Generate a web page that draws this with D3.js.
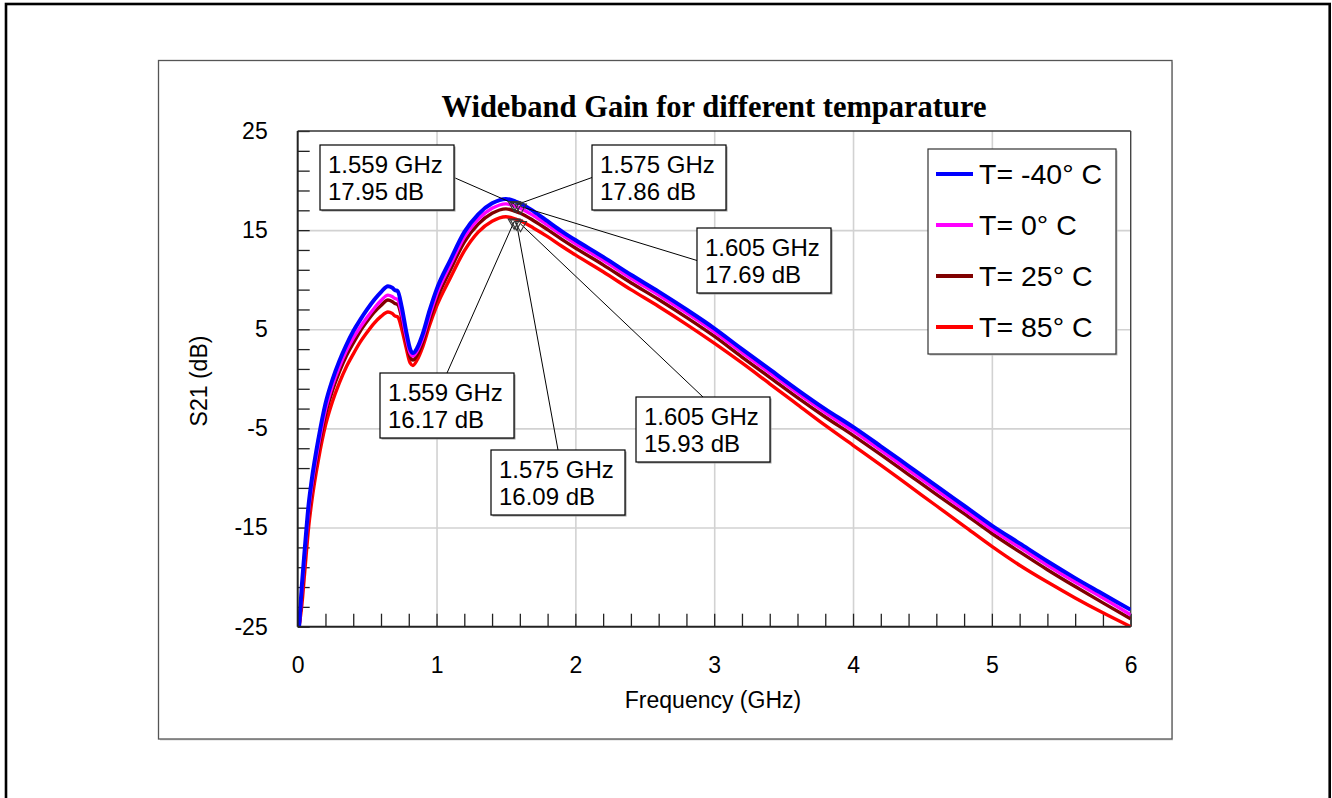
<!DOCTYPE html>
<html>
<head>
<meta charset="utf-8">
<script src="https://cdn.jsdelivr.net/npm/d3@7"></script>
<style>
  html, body { margin: 0; padding: 0; background: #fff; }
  svg text { font-family: "Liberation Sans", Arial, sans-serif; fill: #000; }
</style>
</head>
<body>
<svg id="chart" width="1332" height="798"></svg>
<script>
// Measured S21 sweep, 0–6 GHz, for four ambient temperatures
const frequencies = [0.01, 0.03, 0.05, 0.08, 0.1, 0.15, 0.2, 0.25, 0.3, 0.35, 0.4, 0.45, 0.5, 0.55, 0.6, 0.65, 0.68, 0.7, 0.72, 0.75, 0.78, 0.81, 0.83, 0.86, 0.9, 0.95, 1.0, 1.1, 1.2, 1.3, 1.4, 1.5, 1.559, 1.575, 1.605, 1.7, 1.8, 1.9, 2.0, 2.2, 2.4, 2.6, 2.8, 3.0, 3.2, 3.4, 3.6, 3.8, 4.0, 4.2, 4.4, 4.6, 4.8, 5.0, 5.2, 5.4, 5.6, 5.8, 6.0];

const gainMinus40 = [-25, -20.8, -17.3, -12.5, -10.3, -6.0, -2.5, -0.1, 1.8, 3.4, 4.8, 5.95, 7.0, 7.95, 8.75, 9.35, 9.2, 8.95, 8.85, 7.2, 4.9, 3.0, 2.6, 3.1, 4.5, 6.9, 9.0, 12.0, 14.8, 16.6, 17.7, 18.15, 17.95, 17.86, 17.69, 16.9, 15.9, 14.9, 14.0, 12.3, 10.5, 8.8, 7.0, 5.1, 3.0, 0.95, -1.1, -3.05, -4.85, -6.8, -8.8, -10.8, -12.8, -14.8, -16.6, -18.4, -20.1, -21.7, -23.3];

const gain0 = [-25, -21.3, -17.9, -13.1, -10.9, -6.6, -3.1, -0.7, 1.2, 2.8, 4.1, 5.2, 6.2, 7.1, 7.9, 8.45, 8.3, 8.1, 8.0, 6.5, 4.3, 2.6, 2.3, 2.8, 4.1, 6.4, 8.5, 11.5, 14.3, 16.1, 17.2, 17.65, 17.45, 17.36, 17.2, 16.45, 15.5, 14.55, 13.65, 11.95, 10.15, 8.45, 6.65, 4.75, 2.65, 0.6, -1.45, -3.4, -5.25, -7.2, -9.2, -11.2, -13.2, -15.2, -17.0, -18.8, -20.5, -22.1, -23.8];

const gain25 = [-25, -21.8, -18.4, -13.6, -11.4, -7.1, -3.6, -1.2, 0.7, 2.3, 3.6, 4.8, 5.8, 6.7, 7.4, 7.95, 7.8, 7.6, 7.5, 6.1, 3.9, 2.2, 1.9, 2.4, 3.7, 6.0, 8.0, 11.0, 13.8, 15.6, 16.7, 17.15, 16.95, 16.86, 16.7, 15.95, 15.05, 14.1, 13.2, 11.5, 9.7, 8.0, 6.2, 4.3, 2.2, 0.15, -1.9, -3.85, -5.7, -7.65, -9.65, -11.65, -13.6, -15.6, -17.45, -19.25, -20.95, -22.6, -24.2];

const gain85 = [-25, -22.8, -19.6, -14.8, -12.5, -8.1, -4.7, -2.3, -0.4, 1.2, 2.5, 3.7, 4.7, 5.6, 6.3, 6.75, 6.6, 6.35, 6.25, 5.0, 3.2, 1.6, 1.35, 1.9, 3.2, 5.4, 7.3, 10.2, 12.9, 14.8, 15.9, 16.35, 16.17, 16.09, 15.93, 15.2, 14.35, 13.4, 12.5, 10.8, 9.0, 7.3, 5.5, 3.6, 1.6, -0.5, -2.6, -4.7, -6.7, -8.7, -10.75, -12.8, -14.85, -16.9, -18.8, -20.5, -22.1, -23.6, -25];

const seriesNames = ["T= -40° C", "T= 0° C", "T= 25° C", "T= 85° C"];
const seriesValues = [gainMinus40, gain0, gain25, gain85];
const seriesColors = ["#0000ff", "#ff00ff", "#800000", "#ff0000"];

const xTickValues = [0, 1, 2, 3, 4, 5, 6];
const yTickValues = [-25, -15, -5, 5, 15, 25];
const yGridValues = [-15, -5, 5, 15];
const xGridValues = [1, 2, 3, 4, 5];

// Marker readouts: GPS L1 band edges on the coldest and hottest traces
const markerFrequencies = [1.559, 1.575, 1.605];
const markedSeries = [0, 3];

// Annotation box placement (left, top) and which side the leader leaves from
const boxLayout = [
  { series: 0, freq: 1.559, left: 320, top: 145, side: "right" },
  { series: 0, freq: 1.575, left: 592, top: 145, side: "left" },
  { series: 0, freq: 1.605, left: 697, top: 228, side: "left" },
  { series: 3, freq: 1.559, left: 380, top: 373, side: "top" },
  { series: 3, freq: 1.575, left: 491, top: 450, side: "top" },
  { series: 3, freq: 1.605, left: 636, top: 397, side: "top" }
];

const svg = d3.select("#chart");
const plot = { left: 297.7, top: 131, right: 1130.7, bottom: 626.7 };
const plainNumber = d => String(d);

// Outer page frame
svg.append("rect").attr("x", 6).attr("y", 4).attr("width", 1323.7).attr("height", 820)
  .attr("fill", "#fff").attr("stroke", "#000").attr("stroke-width", 2.6);

// Chart panel with a soft shadow
svg.append("rect").attr("x", 160).attr("y", 62).attr("width", 1013).attr("height", 678.5)
  .attr("fill", "#d8d8d8");
svg.append("rect").attr("x", 158.5).attr("y", 60.5).attr("width", 1013.5).attr("height", 678.5)
  .attr("fill", "#fff").attr("stroke", "#555").attr("stroke-width", 1.3);

const x = d3.scaleLinear().domain([0, 6]).range([plot.left, plot.right]);
const y = d3.scaleLinear().domain([-25, 25]).range([plot.bottom, plot.top]);
const pw = plot.right - plot.left, ph = plot.bottom - plot.top;

// Grid
const grid = svg.append("g");
grid.append("g").attr("transform", `translate(0,${plot.bottom})`)
  .call(d3.axisBottom(x).tickValues(xGridValues).tickSize(-ph).tickFormat(""))
  .call(g => g.select(".domain").remove())
  .call(g => g.selectAll("line").attr("stroke", "#d2d2d2").attr("stroke-width", 1.6));
grid.append("g").attr("transform", `translate(${plot.left},0)`)
  .call(d3.axisLeft(y).tickValues(yGridValues).tickSize(-pw).tickFormat(""))
  .call(g => g.select(".domain").remove())
  .call(g => g.selectAll("line").attr("stroke", "#d2d2d2").attr("stroke-width", 1.6));

// Minor ticks inside the plot
const minorX = d3.range(0, 31).map(i => i * 0.2);
const minorY = d3.range(0, 26).map(i => -25 + i * 2);
svg.append("g").attr("transform", `translate(0,${plot.bottom})`)
  .call(d3.axisBottom(x).tickValues(minorX).tickSize(-13).tickFormat(""))
  .call(g => g.select(".domain").remove())
  .call(g => g.selectAll("line").attr("stroke", "#222").attr("stroke-width", 1.3));
svg.append("g").attr("transform", `translate(${plot.left},0)`)
  .call(d3.axisLeft(y).tickValues(minorY).tickSize(-12).tickFormat(""))
  .call(g => g.select(".domain").remove())
  .call(g => g.selectAll("line").attr("stroke", "#222").attr("stroke-width", 1.3));

// Plot frame
svg.append("line").attr("x1", plot.left).attr("x2", plot.right).attr("y1", plot.top).attr("y2", plot.top)
  .attr("stroke", "#333").attr("stroke-width", 1.4);
svg.append("line").attr("x1", plot.right).attr("x2", plot.right).attr("y1", plot.top).attr("y2", plot.bottom)
  .attr("stroke", "#444").attr("stroke-width", 1.4);

// Traces
svg.append("clipPath").attr("id", "plotClip").append("rect")
  .attr("x", plot.left).attr("y", plot.top - 2).attr("width", pw).attr("height", ph + 2);

const line = d3.line().x(d => x(d[0])).y(d => y(d[1])).curve(d3.curveMonotoneX);
const traces = svg.append("g").attr("clip-path", "url(#plotClip)");
[3, 2, 1, 0].forEach(i => {
  traces.append("path")
    .datum(frequencies.map((f, k) => [f, seriesValues[i][k]]))
    .attr("d", line)
    .attr("fill", "none")
    .attr("stroke", seriesColors[i])
    .attr("stroke-width", i === 0 ? 4 : 3.4)
    .attr("stroke-linejoin", "round");
});

// Axes lines
svg.append("line").attr("x1", plot.left).attr("x2", plot.left).attr("y1", plot.top).attr("y2", plot.bottom)
  .attr("stroke", "#222").attr("stroke-width", 2);
svg.append("line").attr("x1", plot.left).attr("x2", plot.right).attr("y1", plot.bottom).attr("y2", plot.bottom)
  .attr("stroke", "#222").attr("stroke-width", 2);

// Tick labels
svg.append("g").attr("transform", `translate(0,${plot.bottom})`)
  .call(d3.axisBottom(x).tickValues(xTickValues).tickSize(0).tickPadding(30).tickFormat(plainNumber))
  .call(g => g.select(".domain").remove())
  .call(g => g.selectAll("text").attr("font-size", 23).attr("font-family", "Liberation Sans, Arial, sans-serif").attr("fill", "#000"));
svg.append("g").attr("transform", `translate(${plot.left},0)`)
  .call(d3.axisLeft(y).tickValues(yTickValues).tickSize(0).tickPadding(30).tickFormat(plainNumber))
  .call(g => g.select(".domain").remove())
  .call(g => g.selectAll("text").attr("font-size", 23).attr("font-family", "Liberation Sans, Arial, sans-serif").attr("fill", "#000"));

// Titles
svg.append("text").attr("x", 714).attr("y", 117).attr("text-anchor", "middle")
  .attr("font-size", 30.5).attr("font-weight", "bold")
  .style("font-family", "'Liberation Serif', 'Times New Roman', serif")
  .text("Wideband Gain for different temparature");
svg.append("text").attr("x", 713).attr("y", 708).attr("text-anchor", "middle")
  .attr("font-size", 23).text("Frequency (GHz)");
svg.append("text").attr("transform", "translate(207,381) rotate(-90)").attr("text-anchor", "middle")
  .attr("font-size", 23).text("S21 (dB)");

// Markers, leader lines and readout boxes
const valueAt = (s, f) => seriesValues[s][frequencies.indexOf(f)];
const notes = svg.append("g");
boxLayout.forEach(b => {
  const v = valueAt(b.series, b.freq);
  const px = x(b.freq), py = y(v);
  const bw = 134, bh = 65;
  let sx, sy;
  if (b.side === "right") { sx = b.left + bw; sy = b.top + bh / 2; }
  else if (b.side === "left") { sx = b.left; sy = b.top + bh / 2; }
  else { sx = b.left + bw / 2; sy = b.top; }
  notes.append("line").attr("x1", sx).attr("y1", sy).attr("x2", px).attr("y2", py + 3)
    .attr("stroke", "#000").attr("stroke-width", 1);
  notes.append("rect").attr("x", b.left + 1.5).attr("y", b.top + 1.5).attr("width", bw).attr("height", bh)
    .attr("fill", "#999");
  notes.append("rect").attr("x", b.left).attr("y", b.top).attr("width", bw).attr("height", bh)
    .attr("fill", "#fff").attr("stroke", "#000").attr("stroke-width", 1.2);
  notes.append("text").attr("x", b.left + 8).attr("y", b.top + 27.5).attr("font-size", 24)
    .text(`${b.freq.toFixed(3)} GHz`);
  notes.append("text").attr("x", b.left + 8).attr("y", b.top + 55).attr("font-size", 24)
    .text(`${v.toFixed(2)} dB`);
});

// Triangle markers on top of the traces
const tri = d3.symbol().type(d3.symbolTriangle).size(60);
markedSeries.forEach(s => {
  markerFrequencies.forEach(f => {
    const v = valueAt(s, f);
    notes.append("path").attr("d", tri)
      .attr("transform", `translate(${x(f)},${y(v) + 4}) rotate(180)`)
      .attr("fill", "none").attr("stroke", "#333").attr("stroke-width", 1.1);
  });
});

// Legend
const lg = svg.append("g");
lg.append("rect").attr("x", 929.5).attr("y", 150.5).attr("width", 188).attr("height", 205).attr("fill", "#bbb");
lg.append("rect").attr("x", 928).attr("y", 149).attr("width", 188).attr("height", 205)
  .attr("fill", "#fff").attr("stroke", "#333").attr("stroke-width", 1.2);
seriesNames.forEach((name, i) => {
  const rowY = 174 + i * 51;
  lg.append("line").attr("x1", 936).attr("x2", 973).attr("y1", rowY).attr("y2", rowY)
    .attr("stroke", seriesColors[i]).attr("stroke-width", 4);
  lg.append("text").attr("x", 979).attr("y", rowY + 9.5).attr("font-size", 28.5).text(name);
});
</script>
</body>
</html>
